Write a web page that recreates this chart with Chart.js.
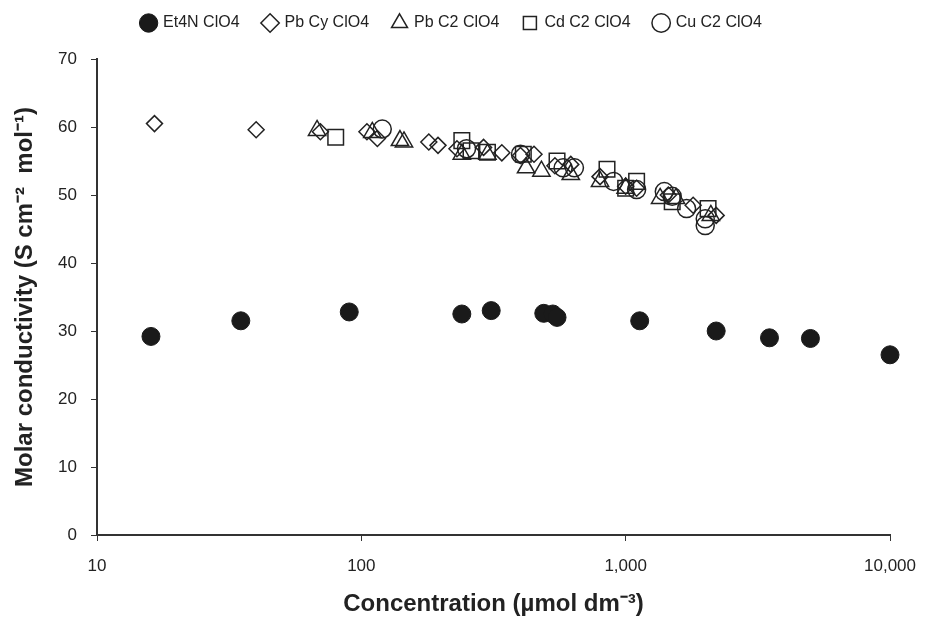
<!DOCTYPE html>
<html>
<head>
<meta charset="utf-8">
<script src="https://cdn.jsdelivr.net/npm/chart.js@4.4.0/dist/chart.umd.min.js"></script>
<style>
  html, body { margin: 0; padding: 0; background: #fff; }
  #wrap { width: 931px; height: 629px; position: relative; }
</style>
</head>
<body>
<div id="wrap"><canvas id="chart"></canvas></div>
<script>
// Et4N ClO4 (filled circles)
const et4nX = [16, 35, 90, 240, 310, 490, 530, 550, 1130, 2200, 3500, 5000, 10000];
const et4nY = [29.2, 31.5, 32.8, 32.5, 33.0, 32.6, 32.5, 32.0, 31.5, 30.0, 29.0, 28.9, 26.5];

// Pb Cy ClO4 (diamonds)
const pbCyX = [16.5, 40, 70, 105, 115, 180, 195, 230, 290, 340, 400, 450, 540, 620, 800, 1000, 1100, 1450, 1800, 2200];
const pbCyY = [60.5, 59.6, 59.3, 59.3, 58.3, 57.8, 57.3, 56.8, 57.0, 56.2, 55.8, 56.0, 54.3, 54.5, 52.7, 51.3, 51.0, 50.0, 48.5, 47.0];

// Pb C2 ClO4 (triangles)
const pbC2X = [68, 110, 140, 145, 240, 300, 420, 480, 620, 800, 1000, 1350, 1550, 2100];
const pbC2Y = [59.5, 59.2, 58.0, 57.8, 56.0, 56.0, 54.0, 53.5, 53.0, 52.0, 51.0, 49.5, 49.5, 47.0];

// Cd C2 ClO4 (squares)
const cdX = [80, 240, 260, 300, 410, 550, 850, 1000, 1100, 1500, 2050];
const cdY = [58.5, 58.0, 56.5, 56.3, 56.0, 55.0, 53.8, 51.0, 52.0, 49.0, 48.0];

// Cu C2 ClO4 (open circles)
const cuX = [120, 250, 400, 580, 640, 900, 1100, 1400, 1500, 1700, 2000, 2000];
const cuY = [59.7, 56.8, 56.0, 54.0, 54.0, 52.0, 50.8, 50.5, 49.8, 48.0, 46.5, 45.5];

const xTicks = [10, 100, 1000, 10000];

function pts(xs, ys) {
    return xs.map((x, i) => ({ x: x, y: ys[i] }));
}

function openSeries(label, style, xs, ys, r) {
    return {
        label: label,
        data: pts(xs, ys),
        pointStyle: style,
        pointRadius: r,
        pointHoverRadius: r,
        pointBorderWidth: 1.5,
        pointBorderColor: '#222',
        pointBackgroundColor: 'rgba(255,255,255,0)',
        borderColor: '#222',
        borderWidth: 1.2,
        backgroundColor: 'rgba(255,255,255,0)',
        showLine: false,
        clip: false
    };
}

// push the plot area down below the legend
const legendGap = {
    id: 'legendGap',
    beforeInit(chart) {
        const fit = chart.legend.fit;
        chart.legend.fit = function() {
            fit.bind(chart.legend)();
            this.height += 18;
        };
    }
};

Chart.defaults.font.family = '"Liberation Sans", Arial, sans-serif';
Chart.defaults.color = '#222';

new Chart(document.getElementById('chart'), {
    type: 'scatter',
    data: {
        datasets: [
            {
                label: 'Et4N ClO4',
                data: pts(et4nX, et4nY),
                pointStyle: 'circle',
                pointRadius: 9,
                pointHoverRadius: 9,
                pointBackgroundColor: '#1a1a1a',
                pointBorderColor: '#1a1a1a',
                backgroundColor: '#1a1a1a',
                borderColor: '#1a1a1a',
                showLine: false,
                clip: false
            },
            openSeries('Pb Cy ClO4', 'rectRot', pbCyX, pbCyY, 8),
            openSeries('Pb C2 ClO4', 'triangle', pbC2X, pbC2Y, 10),
            openSeries('Cd C2 ClO4', 'rect', cdX, cdY, 11),
            openSeries('Cu C2 ClO4', 'circle', cuX, cuY, 9)
        ]
    },
    plugins: [legendGap],
    options: {
        responsive: true,
        maintainAspectRatio: false,
        animation: false,
        layout: { padding: { left: 11, right: 38, top: -9, bottom: 10 } },
        plugins: {
            tooltip: { enabled: false },
            legend: {
                position: 'top',
                labels: {
                    usePointStyle: true,
                    boxWidth: 13,
                    boxHeight: 13,
                    padding: 24,
                    font: { size: 16 }
                }
            }
        },
        scales: {
            x: {
                type: 'logarithmic',
                min: 10,
                max: 10000,
                afterBuildTicks: function(axis) {
                    axis.ticks = xTicks.map(v => ({ value: v, major: true }));
                },
                afterFit: function(axis) { axis.height = 84; },
                ticks: {
                    font: { size: 17 },
                    padding: 15,
                    maxRotation: 0,
                    callback: function(v) { return Number(v).toLocaleString('en-US'); }
                },
                grid: { drawOnChartArea: false, drawTicks: true, tickLength: 6, color: '#333' },
                border: { display: true, color: '#333', width: 2 },
                title: {
                    display: true,
                    text: 'Concentration (\u00b5mol dm\u207b\u00b3)',
                    font: { size: 24, weight: 'bold' },
                    padding: { top: 0, bottom: 0 }
                }
            },
            y: {
                min: 0,
                max: 70,
                afterFit: function(axis) { axis.width = 86; },
                ticks: { stepSize: 10, font: { size: 17 }, padding: 14 },
                grid: { drawOnChartArea: false, drawTicks: true, tickLength: 6, color: '#333' },
                border: { display: true, color: '#333', width: 2 },
                title: {
                    display: true,
                    text: 'Molar conductivity (S cm\u207b\u00b2  mol\u207b\u00b9)',
                    font: { size: 24, weight: 'bold' },
                    padding: { top: 0, bottom: 0 }
                }
            }
        }
    }
});
</script>
</body>
</html>
